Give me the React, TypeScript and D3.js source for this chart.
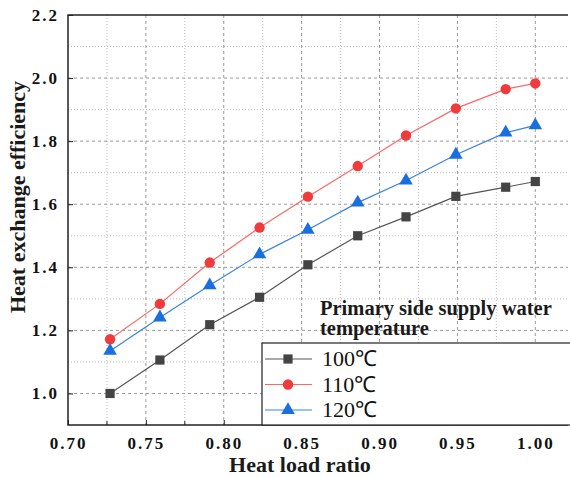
import React, { useEffect, useRef } from 'react';
import * as d3 from 'd3';

// heat load ratio (x) for each measured point
const loadRatio = [0.727, 0.759, 0.791, 0.823, 0.854, 0.886, 0.917, 0.949, 0.981, 1.0];

// heat exchange efficiency for each primary supply temperature
const eff100 = [1.0, 1.106, 1.218, 1.305, 1.408, 1.5, 1.56, 1.625, 1.654, 1.672];
const eff110 = [1.172, 1.284, 1.415, 1.526, 1.624, 1.721, 1.818, 1.904, 1.965, 1.983];
const eff120 = [1.135, 1.241, 1.343, 1.441, 1.519, 1.605, 1.675, 1.757, 1.827, 1.85];

const seriesNames = ['100℃', '110℃', '120℃'];
const xTicks = [0.7, 0.75, 0.8, 0.85, 0.9, 0.95, 1.0];
const yTicks = [1.0, 1.2, 1.4, 1.6, 1.8, 2.0, 2.2];

const W = 570;
const H = 478;

export default function App() {
  const ref = useRef<SVGSVGElement>(null);

  useEffect(() => {
    const svg = d3.select(ref.current);
    svg.selectAll('*').remove();

    const left = 68, right = 568, top = 15, bottom = 425;
    const x = d3.scaleLinear().domain([0.7, 1.021]).range([left, right]);
    const y = d3.scaleLinear().domain([0.9, 2.2]).range([bottom, top]);

    const grid = svg.append('g');
    // minor grid (dotted)
    const xMinor = d3.range(0.725, 1.02, 0.05);
    const yMinor = d3.range(1.1, 2.2, 0.2);
    grid.selectAll('line.xm').data(xMinor).enter().append('line')
      .attr('x1', d => x(d)).attr('x2', d => x(d)).attr('y1', top).attr('y2', bottom)
      .attr('stroke', '#bbb').attr('stroke-width', 1).attr('stroke-dasharray', '1,2');
    grid.selectAll('line.ym').data(yMinor).enter().append('line')
      .attr('x1', left).attr('x2', right).attr('y1', d => y(d)).attr('y2', d => y(d))
      .attr('stroke', '#bbb').attr('stroke-width', 1).attr('stroke-dasharray', '1,2');
    // major grid (dashed)
    grid.selectAll('line.xM').data(xTicks.slice(1)).enter().append('line')
      .attr('x1', d => x(d)).attr('x2', d => x(d)).attr('y1', top).attr('y2', bottom)
      .attr('stroke', '#999').attr('stroke-width', 1).attr('stroke-dasharray', '3,3');
    grid.selectAll('line.yM').data(yTicks.slice(0, -1)).enter().append('line')
      .attr('x1', left).attr('x2', right).attr('y1', d => y(d)).attr('y2', d => y(d))
      .attr('stroke', '#999').attr('stroke-width', 1).attr('stroke-dasharray', '3,3');

    // frame
    svg.append('path')
      .attr('d', `M${right},${bottom}H${left}V${top}H${right}`)
      .attr('fill', 'none').attr('stroke', '#222').attr('stroke-width', 1.5);

    // axes
    const xAxis = svg.append('g').attr('transform', `translate(0,${bottom})`)
      .call(d3.axisBottom(x).tickValues(xTicks).tickSize(-5).tickPadding(12).tickFormat(d3.format('.2f')));
    const yAxis = svg.append('g').attr('transform', `translate(${left},0)`)
      .call(d3.axisLeft(y).tickValues(yTicks).tickSize(-5).tickPadding(9).tickFormat(d3.format('.1f')));
    [xAxis, yAxis].forEach(a => {
      a.attr('font-family', null).attr('font-size', null);
      a.select('.domain').remove();
      a.selectAll('line').attr('stroke', '#222');
      a.selectAll('text').attr('font-size', 17).attr('font-weight', 'bold')
        .attr('fill', '#111').attr('letter-spacing', 2);
    });
    svg.append('g').attr('transform', `translate(0,${bottom})`)
      .selectAll('line').data(xMinor).enter().append('line')
      .attr('x1', d => x(d)).attr('x2', d => x(d)).attr('y1', 0).attr('y2', -4)
      .attr('stroke', '#222');

    // axis titles
    svg.append('text').attr('x', 300).attr('y', 472).attr('text-anchor', 'middle')
      .attr('font-size', 22).attr('font-weight', 'bold')
      .attr('fill', '#1a1a1a').text('Heat load ratio');
    svg.append('text').attr('transform', 'translate(25,197) rotate(-90)').attr('text-anchor', 'middle')
      .attr('font-size', 22).attr('font-weight', 'bold')
      .attr('fill', '#1a1a1a').text('Heat exchange efficiency');

    const series = [
      { name: seriesNames[0], values: eff100, line: '#555', fill: '#444', shape: d3.symbolSquare, size: 85 },
      { name: seriesNames[1], values: eff110, line: '#f66', fill: '#ef3b3b', shape: d3.symbolCircle, size: 85 },
      { name: seriesNames[2], values: eff120, line: '#3b82e0', fill: '#1a6fdf', shape: d3.symbolTriangle, size: 80 },
    ];

    const line = d3.line<number>().x((_, i) => x(loadRatio[i])).y(d => y(d));
    series.forEach(s => {
      svg.append('path').datum(s.values).attr('d', line)
        .attr('fill', 'none').attr('stroke', s.line).attr('stroke-width', 1.2);
      svg.append('g').selectAll('path').data(s.values).enter().append('path')
        .attr('d', d3.symbol().type(s.shape).size(s.size))
        .attr('transform', (d, i) => `translate(${x(loadRatio[i])},${y(d)})`)
        .attr('fill', s.fill);
    });

    // legend
    svg.append('text').attr('font-size', 20.5).attr('font-weight', 'bold')
      .attr('fill', '#1a1a1a')
      .selectAll('tspan').data(['Primary side supply water', 'temperature']).enter().append('tspan')
      .attr('x', 320).attr('y', (_, i) => 315 + i * 20).text(d => d);
    svg.append('rect').attr('x', 262).attr('y', 343).attr('width', 320).attr('height', bottom - 343)
      .attr('fill', 'white').attr('stroke', '#222').attr('stroke-width', 1.2);
    series.forEach((s, i) => {
      const ly = 359 + i * 25.5;
      svg.append('line').attr('x1', 265).attr('x2', 312).attr('y1', ly).attr('y2', ly)
        .attr('stroke', s.line).attr('stroke-width', 1.2);
      svg.append('path').attr('d', d3.symbol().type(s.shape).size(s.size)())
        .attr('transform', `translate(288,${ly})`).attr('fill', s.fill);
      svg.append('text').attr('x', 322).attr('y', ly + 7)
        .attr('font-size', 22).attr('fill', '#111').text(s.name);
    });
  }, []);

  return (
    <svg
      ref={ref}
      width={W}
      height={H}
      fontFamily="Liberation Serif"
      style={{ position: 'absolute', left: 0, top: 0, background: 'white', fontFamily: 'Liberation Serif' }}
    />
  );
}
